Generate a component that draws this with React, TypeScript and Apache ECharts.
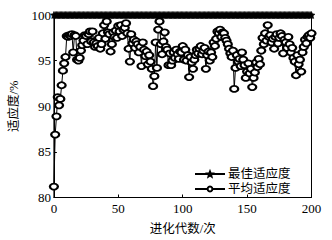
import React, { useEffect, useRef } from "react";
import * as echarts from "echarts";

const generations: number[] = Array.from({ length: 201 }, (_, i) => i);

const avgFitness: number[] = [
  81.2, 86.9, 88.9, 91.0, 90.1, 90.8, 92.3, 93.9, 94.7, 95.4,
  97.7, 97.6, 97.8, 97.7, 97.9, 95.9, 97.8, 97.7, 95.1, 95.0,
  95.3, 96.1, 96.7, 97.2, 97.8, 97.7, 96.8, 97.9, 98.2, 97.1,
  98.2, 97.0, 96.5, 96.9, 96.6, 97.5, 96.3, 96.8, 98.0, 98.9,
  97.4, 99.3, 98.1, 97.9, 96.0, 96.8, 98.1, 97.6, 98.3, 97.5,
  98.8, 98.2, 98.9, 97.7, 98.4, 98.6, 99.1, 98.0, 96.3, 94.9,
  97.9, 96.9, 97.3, 96.4, 97.1, 96.8, 95.9, 96.5, 94.4, 97.0,
  96.2, 95.5, 96.0, 94.6, 95.6, 94.9, 94.1, 92.2, 93.3, 97.0,
  94.2, 98.4, 99.3, 96.8, 95.7, 97.1, 98.1, 96.5, 96.2, 94.5,
  95.8, 94.5, 95.0, 95.9, 95.3, 96.2, 95.7, 95.2, 96.0, 95.9,
  96.6, 95.1, 96.2, 95.0, 95.6, 93.2, 95.4, 94.8, 94.1, 95.1,
  95.6, 96.2, 95.8, 96.3, 96.6, 95.7, 96.1, 96.4, 94.1, 95.6,
  96.0, 95.0, 95.9, 95.4, 97.0, 96.6, 97.4, 98.2, 98.0, 98.4,
  97.6, 98.1, 98.0, 97.5, 97.2, 96.8, 96.3, 95.8, 95.4, 96.1,
  91.9, 94.2, 95.6, 94.9, 95.2, 94.4, 95.9, 95.1, 94.5, 93.1,
  93.8, 94.7, 93.6, 94.1, 92.1, 93.1, 93.7, 94.8, 94.3, 95.2,
  94.6, 96.1, 97.5, 96.8, 98.0, 97.2, 98.9, 97.6, 97.8, 97.0,
  97.4, 96.3, 97.6, 97.9, 96.9, 97.5, 98.0, 97.7, 95.8, 97.3,
  97.0, 96.4, 97.6, 96.8, 95.9, 96.4, 95.3, 94.9, 93.4, 95.6,
  94.6, 95.1, 93.8, 95.9, 96.5, 97.3, 96.9, 97.6, 97.8, 97.5,
  98.0,
];

const bestFitness: number[] = generations.map(() => 100);

const seriesNames: string[] = ["最佳适应度", "平均适应度"];
const xTicks: number[] = [0, 50, 100, 150, 200];
const yTicks: number[] = [80, 85, 90, 95, 100];

const STAR =
  "path://M0,-10L2.6,-3.4L9.5,-3.1L4.2,1.3L5.9,8.1L0,4.2L-5.9,8.1L-4.2,1.3L-9.5,-3.1L-2.6,-3.4Z";

const SERIF = "'Liberation Serif', 'Times New Roman', serif";
const CJK = "'Liberation Serif', 'Noto Sans CJK SC', serif";

export default function App() {
  const ref = useRef<HTMLDivElement>(null);

  useEffect(() => {
    if (!ref.current) return;
    const chart = echarts.init(ref.current, undefined, { renderer: "svg" });
    chart.setOption({
      animation: false,
      backgroundColor: "#ffffff",
      grid: {
        left: 51.5,
        top: 15,
        width: 260,
        height: 188,
        show: true,
        borderColor: "#000",
        borderWidth: 1,
        containLabel: false,
      },
      legend: {
        orient: "vertical",
        left: 194,
        top: 167.5,
        padding: 0,
        itemWidth: 30,
        itemHeight: 6,
        itemGap: 2,
        data: seriesNames,
        textStyle: {
          fontFamily: CJK,
          fontSize: 12.5,
          lineHeight: 13,
          color: "#000",
          padding: [0, 0, 0, -2],
        },
      },
      xAxis: {
        type: "value",
        min: xTicks[0],
        max: xTicks[xTicks.length - 1],
        interval: 50,
        name: "进化代数/次",
        nameLocation: "middle",
        nameGap: 25,
        nameTextStyle: { fontFamily: CJK, fontSize: 12.5, color: "#000" },
        axisLine: { lineStyle: { color: "#000", width: 1 } },
        axisTick: { inside: true, length: 3, lineStyle: { color: "#000" } },
        axisLabel: { fontFamily: SERIF, fontSize: 13, color: "#000", margin: 4 },
        splitLine: { show: false },
      },
      yAxis: {
        type: "value",
        min: yTicks[0],
        max: yTicks[yTicks.length - 1],
        interval: 5,
        name: "适应度/%",
        nameLocation: "middle",
        nameGap: 32,
        nameRotate: 90,
        nameTextStyle: { fontFamily: CJK, fontSize: 12.5, color: "#000" },
        axisLine: { show: true, lineStyle: { color: "#000", width: 1 } },
        axisTick: { show: true, inside: true, length: 3, lineStyle: { color: "#000" } },
        axisLabel: { fontFamily: SERIF, fontSize: 13, color: "#000", margin: 3 },
        splitLine: { show: false },
      },
      series: [
        {
          name: seriesNames[0],
          type: "line",
          data: generations.map((g, i) => [g, bestFitness[i]]),
          symbol: STAR,
          symbolSize: 7,
          showAllSymbol: true,
          lineStyle: { color: "#000", width: 1.5 },
          itemStyle: { color: "#000", borderColor: "#000", borderWidth: 0.6 },
          z: 3,
        },
        {
          name: seriesNames[1],
          type: "line",
          data: generations.map((g, i) => [g, avgFitness[i]]),
          symbol: "emptyCircle",
          symbolSize: [8, 6],
          showAllSymbol: true,
          lineStyle: { color: "#000", width: 1 },
          itemStyle: { color: "#000", borderColor: "#000", borderWidth: 1.2 },
          z: 2,
        },
      ],
    });
    return () => chart.dispose();
  }, []);

  return (
    <div
      ref={ref}
      style={{ position: "fixed", left: 0, top: 0, width: 332, height: 240, background: "#fff" }}
    />
  );
}
